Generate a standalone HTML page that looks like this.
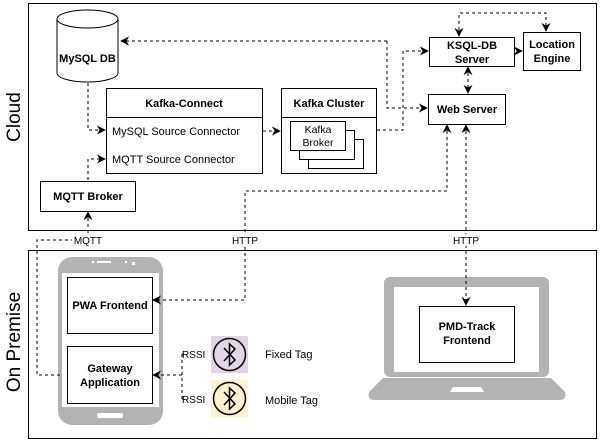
<!DOCTYPE html>
<html><head><style>body{margin:0;background:#fff}svg{display:block}text{font-family:"Liberation Sans",Arial,sans-serif}</style></head>
<body>
<svg width="600" height="445" viewBox="0 0 600 445" xmlns="http://www.w3.org/2000/svg">
<defs><marker id="a" viewBox="0 0 10 10" refX="9" refY="5" markerWidth="9" markerHeight="9" markerUnits="userSpaceOnUse" orient="auto-start-reverse"><path d="M0,0 L10,5 L0,10 L3,5 z" fill="#000"/></marker></defs>
<rect x="28.5" y="3.5" width="568" height="227" fill="#fff" stroke="#000"/>
<rect x="28.5" y="250.5" width="568" height="188" fill="#fff" stroke="#000"/>
<text transform="translate(20,117) rotate(-90)" font-size="19" text-anchor="middle">Cloud</text>
<text transform="translate(20,342) rotate(-90)" font-size="19" text-anchor="middle">On Premise</text>
<!-- phone -->
<rect x="58" y="257" width="105" height="168" rx="14" fill="#b3b3b3"/>
<rect x="62" y="273" width="97" height="134" fill="#fff"/>
<rect x="97" y="261" width="14" height="2" fill="#fff"/><rect x="92" y="261" width="2" height="2" fill="#fff"/><rect x="125" y="261" width="2" height="2" fill="#fff"/><rect x="132" y="262" width="3" height="3" fill="#fff"/>
<rect x="97" y="413" width="26" height="5" rx="2" fill="#fff"/>
<!-- laptop -->
<rect x="384" y="277" width="165" height="100" rx="6" fill="#b3b3b3"/>
<rect x="394" y="287" width="145" height="85" fill="#fff"/>
<path d="M383,378 H551 L565,392 Q567,400 560,400 H374 Q367,400 369,392 Z" fill="#b3b3b3"/>
<path d="M453,387 H481 L484,392 H450 Z" fill="#fff"/>
<g fill="none" stroke="#000" stroke-dasharray="3,3" stroke-width="1">
<path d="M387,41 H121" marker-end="url(#a)"/>
<path d="M387,41 V108 H427" marker-end="url(#a)"/>
<path d="M88,83 V130 H105" marker-end="url(#a)"/>
<path d="M88,180 V159 H105" marker-end="url(#a)"/>
<path d="M263,131 H280" marker-end="url(#a)"/>
<path d="M377,130 H403 V51 H428" marker-end="url(#a)"/>
<path d="M505,51 H522" marker-end="url(#a)"/>
<path d="M468,67 V93" marker-start="url(#a)" marker-end="url(#a)"/>
<path d="M459,36 V13 H546 V31" marker-start="url(#a)" marker-end="url(#a)"/>
<path d="M447,125 V191 H245 V300 H153" marker-start="url(#a)" marker-end="url(#a)"/>
<path d="M466,125 V305" marker-start="url(#a)" marker-end="url(#a)"/>
<path d="M88,212 V240 H37 V375 H60" marker-start="url(#a)"/>
<path d="M182,354 V399 M182,375 H153" marker-end="url(#a)"/>
<path d="M182,354 H183 M182,399 H183"/>
</g>
<rect x="72" y="234" width="34" height="12" fill="#fff"/><text x="88" y="244" font-size="10" text-anchor="middle">MQTT</text>
<rect x="228" y="234" width="34" height="12" fill="#fff"/><text x="245" y="244" font-size="10" text-anchor="middle">HTTP</text>
<rect x="449" y="234" width="34" height="12" fill="#fff"/><text x="466" y="244" font-size="10" text-anchor="middle">HTTP</text>
<!-- MySQL -->
<path d="M57,19 V73 A30.5,9 0 0 0 118,73 V19" fill="#fff" stroke="#000"/>
<ellipse cx="87.5" cy="19" rx="30.5" ry="9" fill="#fff" stroke="#000"/>
<text x="87.5" y="62" font-size="11" font-weight="bold" text-anchor="middle">MySQL DB</text>
<!-- Kafka connect -->
<rect x="106.5" y="88.5" width="156" height="85" fill="#fff" stroke="#000"/>
<line x1="106" y1="117.5" x2="263" y2="117.5" stroke="#000"/>
<text x="184" y="107" font-size="11" font-weight="bold" text-anchor="middle">Kafka-Connect</text>
<text x="112" y="135" font-size="11">MySQL Source Connector</text>
<text x="112" y="163" font-size="11">MQTT Source Connector</text>
<rect x="40.5" y="181.5" width="95" height="30" fill="#fff" stroke="#000"/>
<text x="88" y="200" font-size="11" font-weight="bold" text-anchor="middle">MQTT Broker</text>
<!-- Kafka Cluster -->
<rect x="281.5" y="88.5" width="95" height="85" fill="#fff" stroke="#000"/>
<line x1="281" y1="117.5" x2="377" y2="117.5" stroke="#000"/>
<text x="329" y="107" font-size="11" font-weight="bold" text-anchor="middle">Kafka Cluster</text>
<rect x="308.5" y="139.5" width="55" height="29" fill="#fff" stroke="#000"/>
<rect x="299.5" y="130.5" width="55" height="29" fill="#fff" stroke="#000"/>
<rect x="290.5" y="121.5" width="55" height="29" fill="#fff" stroke="#000"/>
<text x="318" y="133" font-size="10.5" text-anchor="middle">Kafka</text>
<text x="318" y="146" font-size="10.5" text-anchor="middle">Broker</text>
<rect x="429.5" y="37.5" width="85" height="29" fill="#fff" stroke="#000"/>
<text x="472" y="49" font-size="11" font-weight="bold" text-anchor="middle">KSQL-DB</text>
<text x="472" y="63" font-size="11" font-weight="bold" text-anchor="middle">Server</text>
<rect x="523.5" y="32.5" width="57" height="38" fill="#fff" stroke="#000"/>
<text x="552" y="48" font-size="11" font-weight="bold" text-anchor="middle">Location</text>
<text x="552" y="62" font-size="11" font-weight="bold" text-anchor="middle">Engine</text>
<rect x="428.5" y="94.5" width="77" height="30" fill="#fff" stroke="#000"/>
<text x="467" y="113" font-size="11" font-weight="bold" text-anchor="middle">Web Server</text>
<rect x="67.5" y="277.5" width="85" height="56" fill="#fff" stroke="#000"/>
<text x="110" y="309" font-size="11" font-weight="bold" text-anchor="middle">PWA Frontend</text>
<rect x="67.5" y="346.5" width="85" height="57" fill="#fff" stroke="#000"/>
<text x="110" y="372" font-size="11" font-weight="bold" text-anchor="middle">Gateway</text>
<text x="110" y="386" font-size="11" font-weight="bold" text-anchor="middle">Application</text>
<!-- tags -->
<text x="182" y="358" font-size="10">RSSI</text>
<text x="182" y="403" font-size="10">RSSI</text>
<rect x="211" y="336" width="37" height="37" fill="#e1d5e7"/>
<circle cx="229.5" cy="354.5" r="16" fill="none" stroke="#000" stroke-width="1.5"/>
<path d="M224,348 L235,360 L229.5,365 V344 L235,349 L224,361" fill="none" stroke="#000" stroke-width="1.5"/>
<rect x="211" y="380" width="37" height="37" fill="#fff2cc"/>
<circle cx="229.5" cy="398.5" r="16" fill="none" stroke="#000" stroke-width="1.5"/>
<path d="M224,392 L235,404 L229.5,409 V388 L235,393 L224,405" fill="none" stroke="#000" stroke-width="1.5"/>
<text x="265" y="358" font-size="11">Fixed Tag</text>
<text x="265" y="404" font-size="11">Mobile Tag</text>
<rect x="419.5" y="306.5" width="95" height="56" fill="#fff" stroke="#000"/>
<text x="467" y="330" font-size="11" font-weight="bold" text-anchor="middle">PMD-Track</text>
<text x="467" y="344" font-size="11" font-weight="bold" text-anchor="middle">Frontend</text>
</svg>
</body></html>
